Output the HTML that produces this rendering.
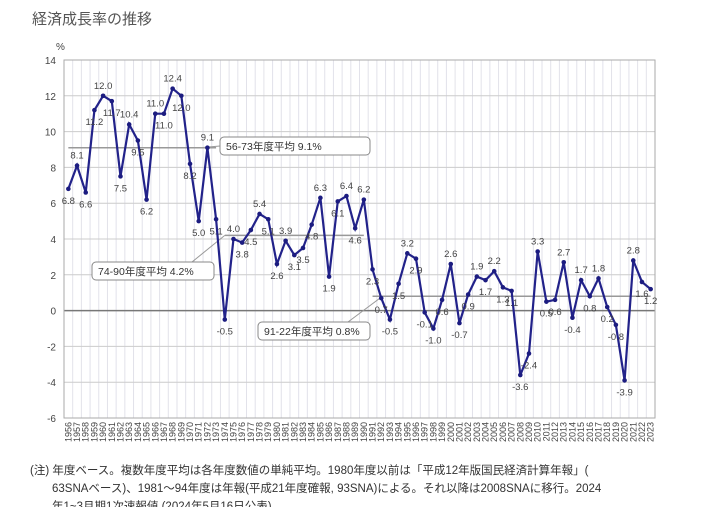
<!DOCTYPE html>
<html><head><meta charset="utf-8">
<style>
body{margin:0;background:#fff;}
svg{display:block;font-family:"Liberation Sans","Noto Sans CJK JP",sans-serif;}
</style></head>
<body>
<svg id="c" width="720" height="507">
<text x="32" y="24" font-size="15" fill="#555">経済成長率の推移</text>
<text x="56" y="50" font-size="10" fill="#444">%</text>
<g id="grid"></g><g id="avg"></g><g id="line"></g><g id="labels"></g><g id="xt"></g>
<text x="30" y="474" font-size="11.5" fill="#333">(注) 年度ベース。複数年度平均は各年度数値の単純平均。1980年度以前は「平成12年版国民経済計算年報」(</text>
<text x="52" y="492" font-size="11.5" fill="#333">63SNAベース)、1981～94年度は年報(平成21年度確報, 93SNA)による。それ以降は2008SNAに移行。2024</text>
<text x="52" y="510" font-size="11.5" fill="#333">年1~3月期1次速報値 (2024年5月16日公表)</text>
</svg>
<script>
const years=[];for(let y=1956;y<=2023;y++)years.push(y);
const growth=[6.8,8.1,6.6,11.2,12.0,11.7,7.5,10.4,9.5,6.2,11.0,11.0,12.4,12.0,8.2,5.0,9.1,5.1,-0.5,4.0,3.8,4.5,5.4,5.1,2.6,3.9,3.1,3.5,4.8,6.3,1.9,6.1,6.4,4.6,6.2,2.3,0.7,-0.5,1.5,3.2,2.9,-0.1,-1.0,0.6,2.6,-0.7,0.9,1.9,1.7,2.2,1.3,1.1,-3.6,-2.4,3.3,0.5,0.6,2.7,-0.4,1.7,0.8,1.8,0.2,-0.8,-3.9,2.8,1.6,1.2];
const yTicks=[14,12,10,8,6,4,2,0,-2,-4,-6];
const avgs=[{from:1956,to:1973,v:9.1,label:"56-73年度平均 9.1%"},{from:1974,to:1990,v:4.2,label:"74-90年度平均 4.2%"},{from:1991,to:2023,v:0.8,label:"91-22年度平均 0.8%"}];
const NS="http://www.w3.org/2000/svg";
const X0=64,X1=655,Y0=60,Y1=418;
const step=(X1-X0)/years.length;
const xs=i=>X0+step*(i+0.5);
const ys=v=>Y0+(14-v)/20*(Y1-Y0);
function mk(t,a,p){const e=document.createElementNS(NS,t);for(const k in a)e.setAttribute(k,a[k]);p.appendChild(e);return e;}
const g=document.getElementById('grid');
years.forEach((y,i)=>{const l=mk('line',{x1:X0+step*(i+1),x2:X0+step*(i+1),y1:Y0,y2:Y1,stroke:'#e2e2ea','stroke-width':1},g);
});
yTicks.forEach(t=>{const l=mk('line',{x1:X0,x2:X1,y1:ys(t),y2:ys(t),stroke:t===0?'#777':'#ccc','stroke-width':t===0?1.5:1},g);

const tx=mk('text',{x:X0-8,y:ys(t)+4,'font-size':10,'text-anchor':'end',fill:'#444'},g);tx.textContent=t;
});
mk('rect',{x:X0,y:Y0,width:X1-X0,height:Y1-Y0,fill:'none',stroke:'#aaa'},g);
const ag=document.getElementById('avg');
const boxes=[[220,137,150],[92,262,122],[258,322,112]];
avgs.forEach((a,k)=>{const i0=years.indexOf(a.from),i1=years.indexOf(a.to);
const l=mk('line',{x1:xs(i0),x2:xs(i1),y1:ys(a.v),y2:ys(a.v),stroke:'#999','stroke-width':1.5},ag);

const b=boxes[k];
const p=mk('path',{d:k===0?`M${b[0]} ${b[1]+9} L${b[0]-20} ${ys(a.v)}`:k===1?`M${b[0]+100} ${b[1]} L${xs(i0)} ${ys(a.v)}`:`M${b[0]+90} ${b[1]} L${xs(i0)+10} ${ys(a.v)}`,stroke:'#999',fill:'none'},ag);

const r=mk('rect',{x:b[0],y:b[1],width:b[2],height:18,rx:4,fill:'#fff',stroke:'#888'},ag);

const t=mk('text',{x:b[0]+6,y:b[1]+13,'font-size':10.5,fill:'#333'},ag);t.textContent=a.label;
});
const lg=document.getElementById('line');
const pl=mk('polyline',{points:growth.map((v,i)=>xs(i)+','+ys(v)).join(' '),fill:'none',stroke:'#22228a','stroke-width':2.2},lg);

const lb=document.getElementById('labels');
growth.forEach((v,i)=>{const c=mk('circle',{cx:xs(i),cy:ys(v),r:2.3,fill:'#1c1c80'},lg);

const prev=i>0?growth[i-1]:v,next=i<growth.length-1?growth[i+1]:v;
const peak=v>=prev&&v>=next;const t=mk('text',{x:xs(i),y:peak?ys(v)-7:ys(v)+15,'font-size':9.5,'text-anchor':'middle',fill:'#444'},lb);
t.textContent=v.toFixed(1);});
const xt=document.getElementById('xt');
years.forEach((y,i)=>{const t=mk('text',{x:0,y:0,'font-size':9,'text-anchor':'end',fill:'#444',transform:`translate(${xs(i)+3},${Y1+4}) rotate(-90)`},xt);
t.textContent=y;});
</script>
</body></html>
